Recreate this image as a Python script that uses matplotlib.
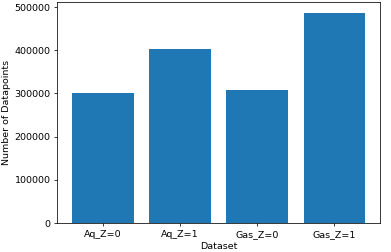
import matplotlib
matplotlib.use("Agg")
import matplotlib.pyplot as plt

datasets = ["Aq_Z=0", "Aq_Z=1", "Gas_Z=0", "Gas_Z=1"]
counts = [301000, 403000, 307000, 487500]

s = 0.68
plt.rcParams.update({
    'font.size': 10 * s,
    'xtick.major.size': 3.5 * s,
    'ytick.major.size': 3.5 * s,
    'xtick.major.width': 0.8 * s,
    'ytick.major.width': 0.8 * s,
    'xtick.major.pad': 3.5 * s,
    'ytick.major.pad': 3.5 * s,
    'axes.linewidth': 0.8 * s,
    'axes.labelpad': 4.0 * s,
})
fig = plt.figure(figsize=(3.91, 2.52), dpi=100)
ax = fig.add_axes([0.146, 0.115, 0.826, 0.877])
ax.bar(datasets, counts, color="#1f77b4")
ax.set_xlabel("Dataset")
ax.set_ylabel("Number of Datapoints")
fig.savefig("out.png", dpi=100)
